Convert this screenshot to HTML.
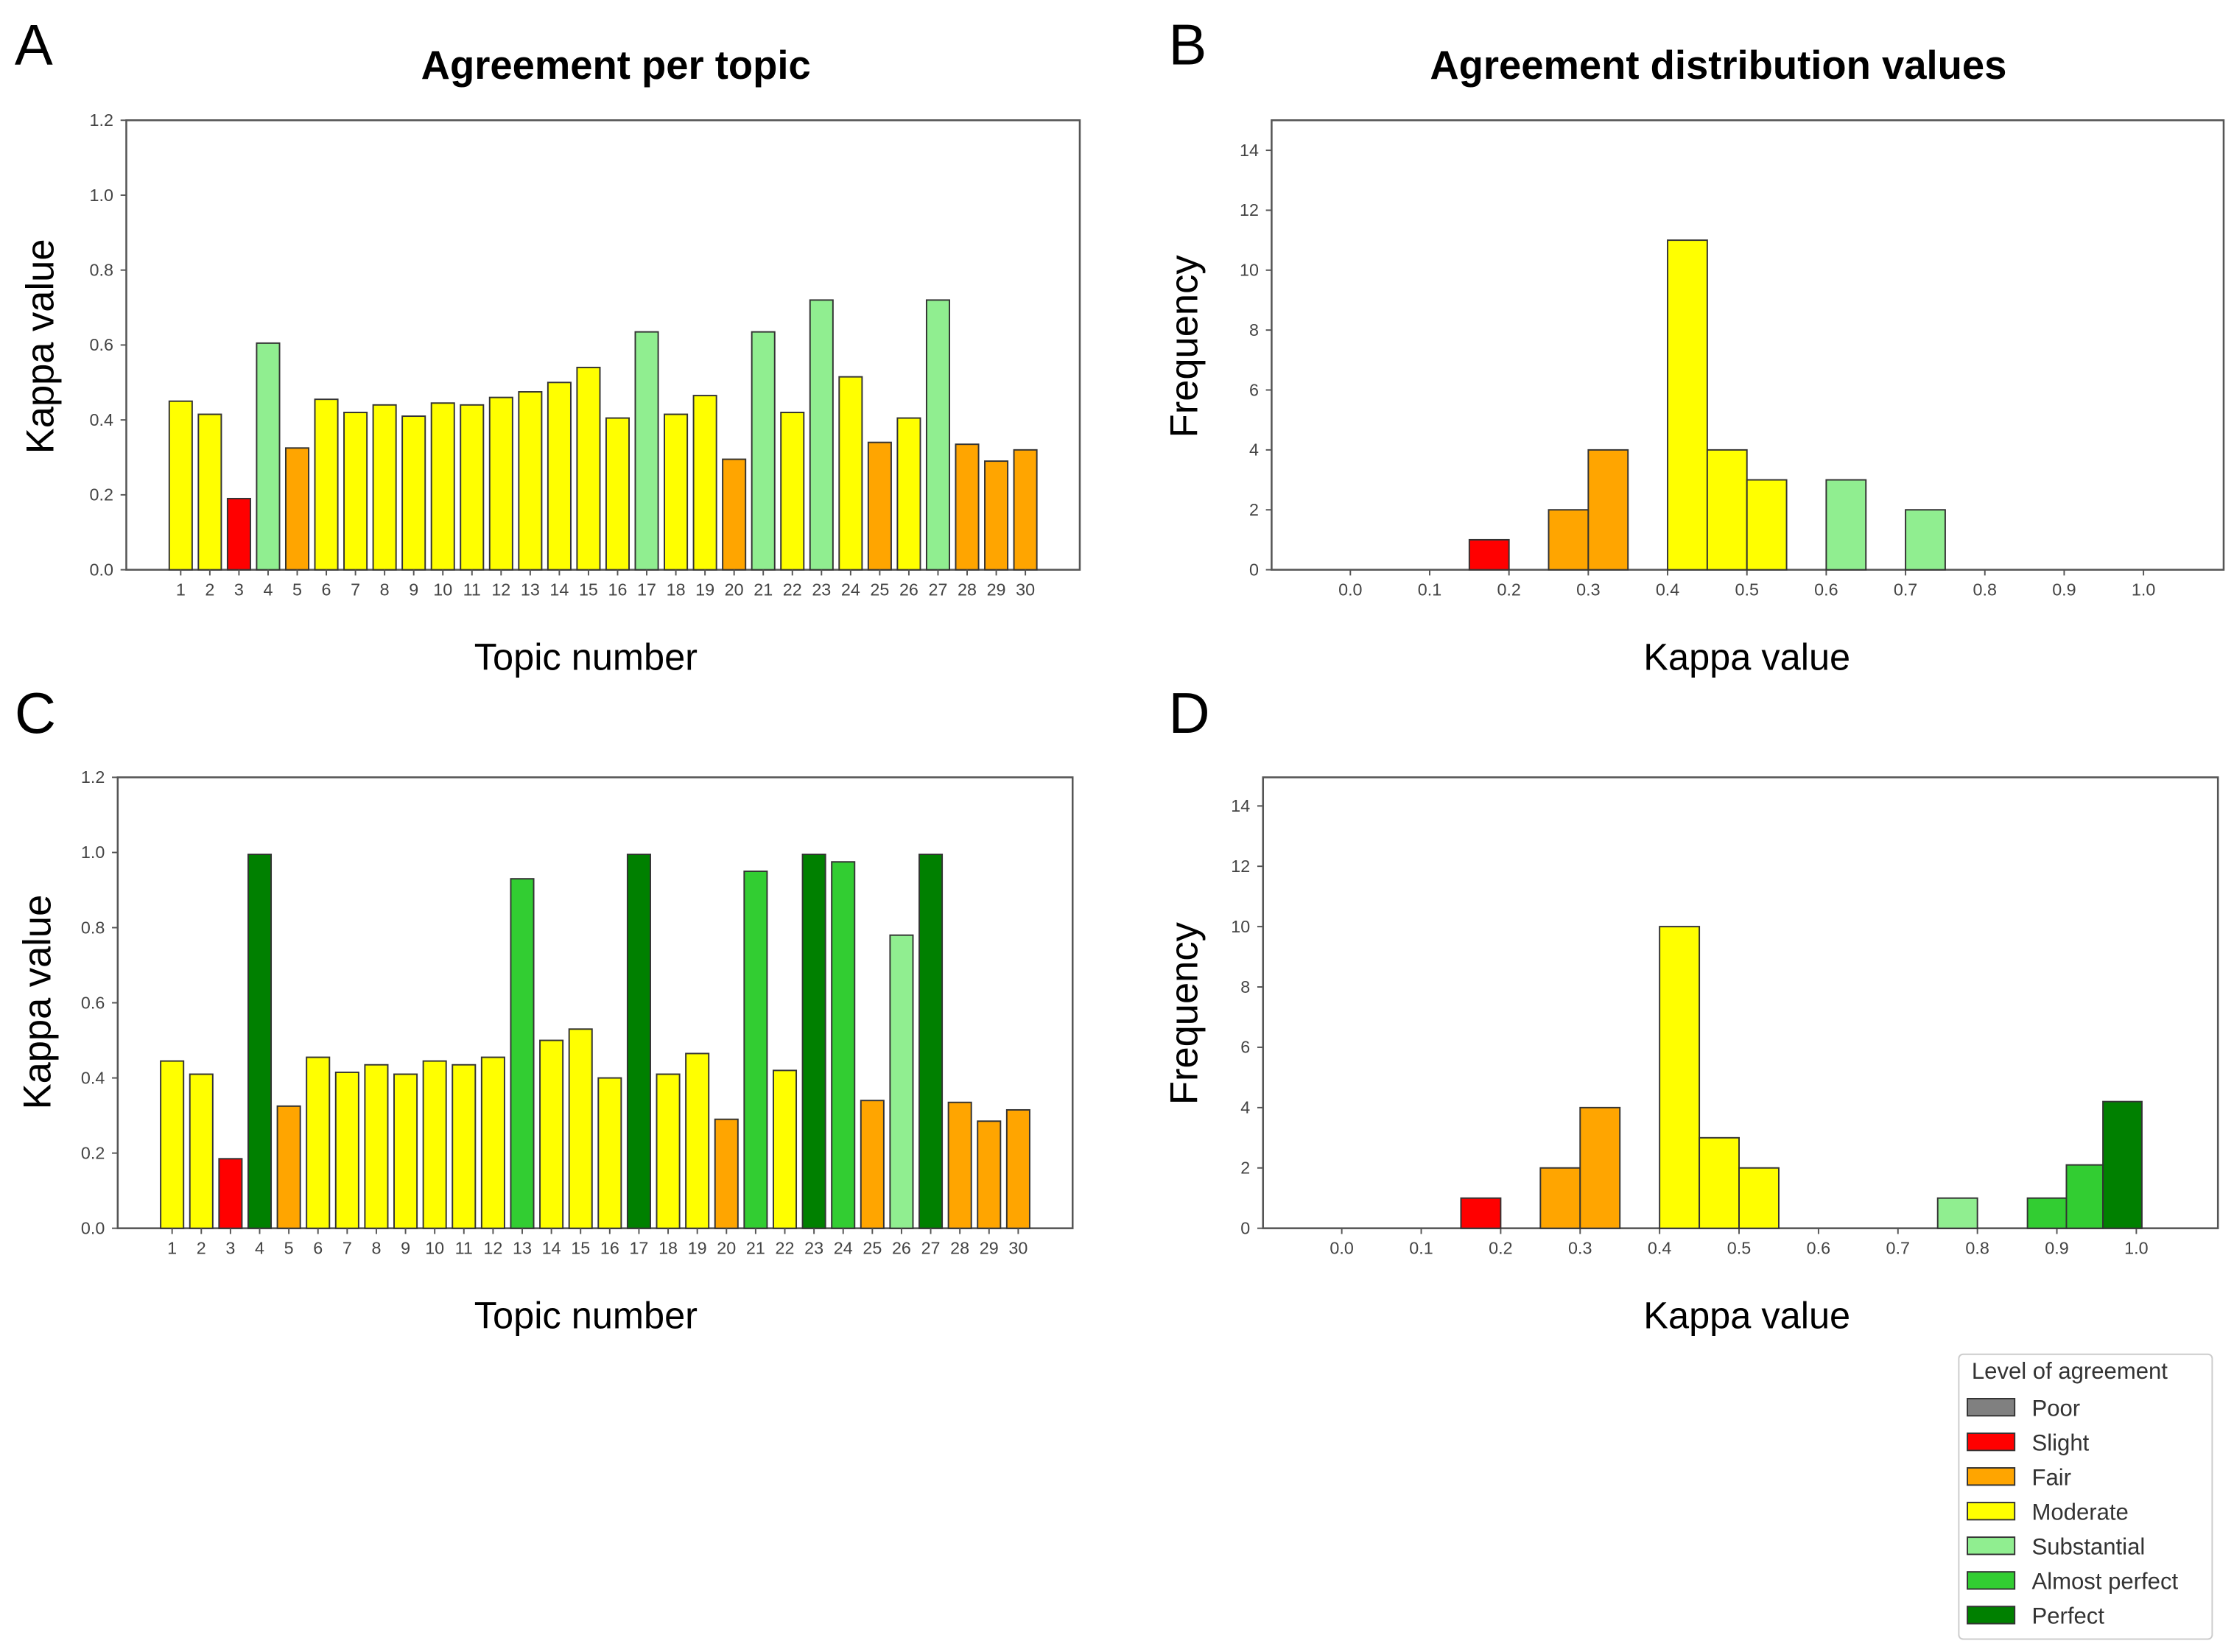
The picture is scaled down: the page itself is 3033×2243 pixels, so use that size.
<!DOCTYPE html>
<html><head><meta charset="utf-8"><style>
html,body{margin:0;padding:0;background:#fff}
svg{display:block}
text{font-family:"Liberation Sans",sans-serif}
.tk{font-family:"Liberation Sans Narrow","Liberation Sans",sans-serif;font-size:12px;fill:#444}
</style></head><body>
<svg id="fig" width="3033" height="2243" viewBox="0 0 1560 1154" xmlns="http://www.w3.org/2000/svg">
<rect width="1560" height="1154" fill="#fff"/>
<g id="root"></g>
</svg>
<script>
const topics = [1,2,3,4,5,6,7,8,9,10,11,12,13,14,15,16,17,18,19,20,21,22,23,24,25,26,27,28,29,30];
const kappaA = [0.45,0.415,0.19,0.605,0.325,0.455,0.42,0.44,0.41,0.445,0.44,0.46,0.475,0.50,0.54,0.405,0.635,0.415,0.465,0.295,0.635,0.42,0.72,0.515,0.34,0.405,0.72,0.335,0.29,0.32];
const levelA = ['M','M','S','Sub','F','M','M','M','M','M','M','M','M','M','M','M','Sub','M','M','F','Sub','M','Sub','M','F','M','Sub','F','F','F'];
const kappaC = [0.445,0.41,0.185,0.995,0.325,0.455,0.415,0.435,0.41,0.445,0.435,0.455,0.93,0.50,0.53,0.40,0.995,0.41,0.465,0.29,0.95,0.42,0.995,0.975,0.34,0.78,0.995,0.335,0.285,0.315];
const levelC = ['M','M','S','P','F','M','M','M','M','M','M','M','AP','M','M','M','P','M','M','F','AP','M','P','AP','F','Sub','P','F','F','F'];
const histB_left = [0.15,0.25,0.30,0.40,0.45,0.50,0.60,0.70];
const histB_count = [1,2,4,11,4,3,3,2];
const histB_level = ['S','F','F','M','M','M','Sub','Sub'];
const histD_left = [0.15,0.25,0.30,0.40,0.45,0.50,0.75,0.863,0.912,0.958];
const histD_right = [0.20,0.30,0.35,0.45,0.50,0.55,0.80,0.912,0.958,1.007];
const histD_count = [1,2,4,10,3,2,1,1,2.1,4.2];
const histD_level = ['S','F','F','M','M','M','Sub','AP','AP','P'];
const kappaTicks = [0.0,0.2,0.4,0.6,0.8,1.0,1.2];
const freqTicks = [0,2,4,6,8,10,12,14];
const binTicks = [0.0,0.1,0.2,0.3,0.4,0.5,0.6,0.7,0.8,0.9,1.0];
const legendLabels = ['Poor','Slight','Fair','Moderate','Substantial','Almost perfect','Perfect'];
const legendKeys = ['Po','S','F','M','Sub','AP','P'];
const COL = {Po:'#808080',S:'#ff0000',F:'#ffa500',M:'#ffff00',Sub:'#90ee90',AP:'#32cd32',P:'#008000'};

const NS='http://www.w3.org/2000/svg';
const root=document.getElementById('root');
function el(tag,attrs,parent,txt){const e=document.createElementNS(NS,tag);for(const k in attrs)e.setAttribute(k,attrs[k]);if(txt!==undefined)e.textContent=txt;(parent||root).appendChild(e);return e;}

function textEl(x,y,s,size,opts,name){
  const t=el('text',Object.assign({x:x,y:y,'font-size':size,fill:'#000'},opts||{}),root,s);
  
  
  return t;
}

function frame(x0,y0,x1,y1,name){
  const r=el('rect',{x:x0,y:y0,width:x1-x0,height:y1-y0,fill:'none',stroke:'#555','stroke-width':1.3});
  
  
}

function barPanel(p, vals, levels, tag){
  const ys=v=>p.y1-v/1.2*(p.y1-p.y0);
  const xs=i=>p.c1+(p.cN-p.c1)*(i)/(topics.length-1);
  frame(p.x0,p.y0,p.x1,p.y1,tag+'-plot-frame');
  kappaTicks.forEach(t=>{
    const y=ys(t);
    el('line',{x1:p.x0-4,x2:p.x0,y1:y,y2:y,stroke:'#555'});
    const tt=textEl(p.x0-9,y+4,t.toFixed(1),12,{'text-anchor':'end',class:'tk'},'y-tick-label');
  });
  topics.forEach((n,i)=>{
    const x=xs(i);
    const b=el('rect',{x:x-8,y:ys(vals[i]),width:16,height:ys(0)-ys(vals[i]),fill:COL[levels[i]],stroke:'#333','stroke-width':1});
    
    
    el('line',{x1:x,x2:x,y1:p.y1,y2:p.y1+4,stroke:'#555'});
    textEl(x,p.y1+18,String(n),12,{'text-anchor':'middle',class:'tk'},'x-tick-label');
  });
}

function histPanel(p, lefts, rights, counts, levels, tag){
  const xs=v=>p.z+(v)*(p.one-p.z);
  const ys=v=>p.y1-v*(p.y1-p.y14)/14;
  frame(p.x0,p.y0,p.x1,p.y1,tag+'-plot-frame');
  freqTicks.forEach(t=>{
    const y=ys(t);
    el('line',{x1:p.x0-4,x2:p.x0,y1:y,y2:y,stroke:'#555'});
    textEl(p.x0-9,y+4,String(t),12,{'text-anchor':'end',class:'tk'},'y-tick-label');
  });
  binTicks.forEach(t=>{
    const x=xs(t);
    el('line',{x1:x,x2:x,y1:p.y1,y2:p.y1+4,stroke:'#555'});
    textEl(x,p.y1+18,t.toFixed(1),12,{'text-anchor':'middle',class:'tk'},'x-tick-label');
  });
  counts.forEach((c,i)=>{
    const xa=xs(lefts[i]), xb=xs(rights[i]);
    const b=el('rect',{x:xa,y:ys(c),width:xb-xa,height:ys(0)-ys(c),fill:COL[levels[i]],stroke:'#333','stroke-width':1});
    
    
  });
}

// Panel A
barPanel({x0:88,y0:84,x1:754,y1:398,c1:126,cN:716},kappaA,levelA,'panel-a');
// Panel C
barPanel({x0:82,y0:543,x1:749,y1:858,c1:120,cN:711},kappaC,levelC,'panel-c');
// Panel B
histPanel({x0:888,y0:84,x1:1553,y1:398,z:943,one:1497,y14:105},histB_left,histB_left.map(v=>v+0.05),histB_count,histB_level,'panel-b');
// Panel D
histPanel({x0:882,y0:543,x1:1549,y1:858,z:937,one:1492,y14:563},histD_left,histD_right,histD_count,histD_level,'panel-d');

// Labels
textEl(10,45,'A',40,{'font-weight':'300'},'panel-letter-a');
textEl(816,45,'B',40,{'font-weight':'300'},'panel-letter-b');
textEl(10,512,'C',40,{'font-weight':'300'},'panel-letter-c');
textEl(816,512,'D',40,{'font-weight':'300'},'panel-letter-d');
textEl(430,55,'Agreement per topic',28,{'font-weight':'bold','text-anchor':'middle'},'title-agreement-per-topic');
textEl(1200,55,'Agreement distribution values',28,{'font-weight':'bold','text-anchor':'middle'},'title-agreement-distribution');
textEl(409,468,'Topic number',26,{'text-anchor':'middle'},'x-axis-title-a');
textEl(1220,468,'Kappa value',26,{'text-anchor':'middle'},'x-axis-title-b');
textEl(409,928,'Topic number',26,{'text-anchor':'middle'},'x-axis-title-c');
textEl(1220,928,'Kappa value',26,{'text-anchor':'middle'},'x-axis-title-d');
textEl(0,0,'Kappa value',27,{'text-anchor':'middle',transform:'translate(37,242) rotate(-90)'},'y-axis-title-a');
textEl(0,0,'Frequency',27,{'text-anchor':'middle',transform:'translate(836,242) rotate(-90)'},'y-axis-title-b');
textEl(0,0,'Kappa value',27,{'text-anchor':'middle',transform:'translate(35,700) rotate(-90)'},'y-axis-title-c');
textEl(0,0,'Frequency',27,{'text-anchor':'middle',transform:'translate(836,708) rotate(-90)'},'y-axis-title-d');

// Legend
const lg=el('rect',{x:1368,y:946,width:177,height:199,fill:'#fff',stroke:'#ccc','stroke-width':1,rx:3});


textEl(1377,963,'Level of agreement',16,{fill:'#333'},'legend-title');
legendLabels.forEach((l,i)=>{
  const y=983+i*24.2;
  const s=el('rect',{x:1374,y:y-6,width:33,height:12,fill:COL[legendKeys[i]],stroke:'#333','stroke-width':1});
  
  
  textEl(1419,y+6,l,16,{fill:'#333'},'legend-entry');
});
</script>
</body></html>
